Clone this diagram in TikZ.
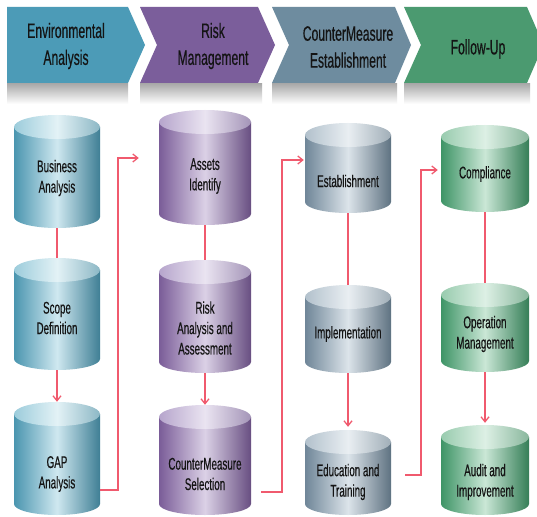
\documentclass[tikz,border=0pt]{standalone}
\usepackage{fontspec}
\newfontfamily\cond[FakeStretch=0.58, FakeBold=0.4]{Liberation Sans}
\usetikzlibrary{arrows.meta,fit}
\definecolor{envc}{HTML}{4C9BB7}
\definecolor{riskc}{HTML}{7B5E9B}
\definecolor{cmc}{HTML}{6E8C9F}
\definecolor{fuc}{HTML}{4B9A70}
\definecolor{A-edge}{HTML}{4A95AF}\definecolor{A-mid}{HTML}{CFE8F0}
\definecolor{A-tedge}{HTML}{9CCCDB}\definecolor{A-tmid}{HTML}{E3F2F6}
\definecolor{B-edge}{HTML}{7A5C98}\definecolor{B-mid}{HTML}{DBD1E6}
\definecolor{B-tedge}{HTML}{B6A5CC}\definecolor{B-tmid}{HTML}{EAE4F1}
\definecolor{C-edge}{HTML}{6F8698}\definecolor{C-mid}{HTML}{DCE4EA}
\definecolor{C-tedge}{HTML}{B2C1CC}\definecolor{C-tmid}{HTML}{E9EEF2}
\definecolor{D-edge}{HTML}{3E9466}\definecolor{D-mid}{HTML}{CAE7D6}
\definecolor{D-tedge}{HTML}{98CBAE}\definecolor{D-tmid}{HTML}{DDF0E5}
\definecolor{connc}{HTML}{F05A6E}
\definecolor{txtc}{HTML}{141414}
% name, cx, top, bottom, half width, palette
\newcommand\mycyl[6]{%
  \shade[left color=#6-edge, right color=#6-edge!85!black, middle color=#6-mid]
    ({#2-#5},{#3+12}) -- ({#2-#5},{#4-11})
    arc[start angle=180, end angle=360, x radius=#5 bp, y radius=11bp]
    -- ({#2+#5},{#3+12}) -- cycle;
  \shade[left color=#6-tedge, right color=#6-tedge!90!black, middle color=#6-tmid]
    (#2,{#3+12}) ellipse [x radius=#5 bp, y radius=12bp];
  \node[fit={({#2-#5},#3) ({#2+#5},#4)}, inner sep=0pt] (#1) {};
}
\begin{document}
\begin{tikzpicture}[x=1bp, y=-1bp,
  bantext/.style={font=\cond\fontsize{21}{27}\selectfont, text=txtc, align=center, inner sep=0pt},
  cyltext/.style={font=\cond\fontsize{17}{20.5}\selectfont, text=txtc, align=center, inner sep=0pt},
  conn/.style={draw=connc, line width=1.6bp},
  arr/.style={conn, -{Straight Barb[length=5bp, width=8bp, line width=1.3bp]}}]
\useasboundingbox[fill=white] (0,0) rectangle (537,517);

% banner shadows
\foreach \a/\b in {7/128, 140/262, 272/397, 404/530}
  \shade[top color=black!33, bottom color=white] (\a,84) rectangle (\b,104);

% banners
\fill[envc] (7,7) -- (128,7) -- (145,45) -- (128,83) -- (7,83) -- cycle;
\fill[riskc] (140,7) -- (258,7) -- (275,45) -- (258,83) -- (140,83) -- (157,45) -- cycle;
\fill[cmc] (272,7) -- (395,7) -- (411,45) -- (395,83) -- (272,83) -- (289,45) -- cycle;
\fill[fuc] (404,7) -- (527,7) -- (537,30) -- (537,60) -- (527,83) -- (404,83) -- (421,45) -- cycle;
\node[bantext] (b1) at (66,46) {Environmental\\Analysis};
\node[bantext] (b2) at (213,46) {Risk\\Management};
\node[bantext] (b3) at (348,47) {CounterMeasure\\Establishment};
\node[bantext] (b4) at (478,49) {Follow-Up};

% cylinders
\mycyl{c1}{57}{115}{228}{43}{A}
\mycyl{c2}{57}{258}{370}{43}{A}
\mycyl{c3}{57}{402}{515}{43}{A}
\mycyl{c4}{205}{110}{225}{46}{B}
\mycyl{c5}{205}{260}{373}{46}{B}
\mycyl{c6}{205}{405}{515}{46}{B}
\mycyl{c7}{348}{123}{213}{43}{C}
\mycyl{c8}{348}{285}{373}{43}{C}
\mycyl{c9}{348}{430}{515}{43}{C}
\mycyl{c10}{485}{125}{212}{44}{D}
\mycyl{c11}{485}{283}{372}{44}{D}
\mycyl{c12}{485}{425}{515}{44}{D}

\node[cyltext] (t1) at (57,178) {Business\\Analysis};
\node[cyltext] (t2) at (57,318) {Scope\\Definition};
\node[cyltext] (t3) at (57,474) {GAP\\Analysis};
\node[cyltext] (t4) at (205,176) {Assets\\Identify};
\node[cyltext] (t5) at (205,328) {Risk\\Analysis and\\Assessment};
\node[cyltext] (t6) at (205,474) {CounterMeasure\\Selection};
\node[cyltext] (t7) at (348,181) {Establishment};
\node[cyltext] (t8) at (348,334) {Implementation};
\node[cyltext] (t9) at (348,482) {Education and\\Training};
\node[cyltext] (t10) at (485,174) {Compliance};
\node[cyltext] (t11) at (485,334) {Operation\\Management};
\node[cyltext] (t12) at (485,482) {Audit and\\Improvement};

% connectors within columns
\draw[conn] (c1.south) -- (c2.north);
\draw[arr] (c2.south) -- (c3.north);
\draw[conn] (c4.south) -- (c5.north);
\draw[arr] (c5.south) -- (c6.north);
\draw[conn] (c7.south) -- (c8.north);
\draw[arr] (c8.south) -- ([yshift=3bp]c9.north);
\draw[conn] (c10.south) -- (c11.north);
\draw[arr] (c11.south) -- ([yshift=2bp]c12.north);

% connectors between columns
\draw[arr] (c3.east |- 0,490) -- (118,490) |- ([xshift=-20bp]c4.west |- 0,158);
\draw[arr] ([xshift=10bp]c6.east |- 0,492) -- (282,492) |- ([xshift=-1bp]c7.west |- 0,160);
\draw[arr] ([xshift=14bp]c9.east |- 0,475) -- (421,475) |- ([xshift=-3bp]c10.west |- 0,170);
\end{tikzpicture}
\end{document}
